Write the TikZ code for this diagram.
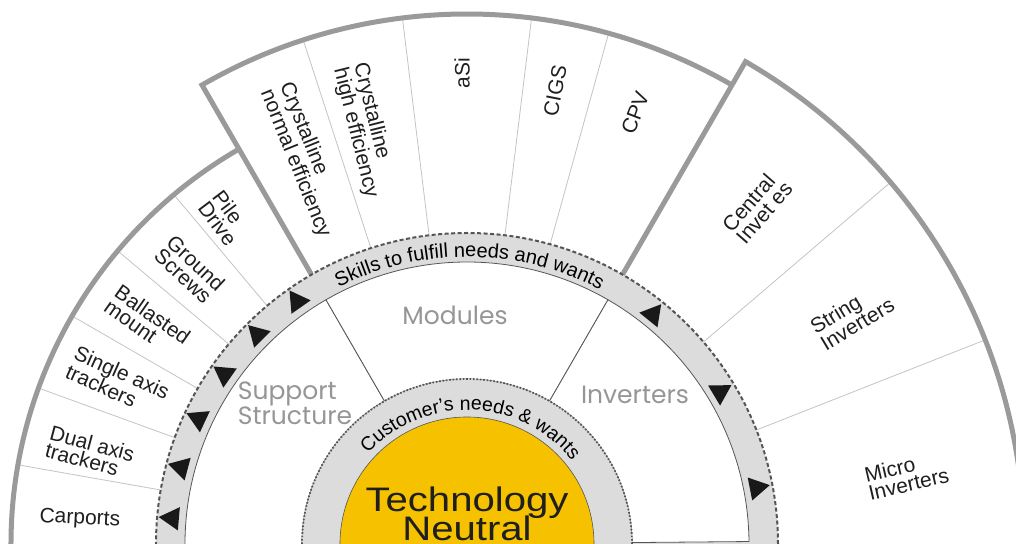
\documentclass[tikz,border=0pt]{standalone}
\usepackage{fontspec}
\setmainfont{Liberation Sans}
\newfontfamily\geofont{Poppins}
\usepackage{xcolor}
\usetikzlibrary{shapes.geometric,decorations.text}

\definecolor{rimgray}{HTML}{9A9A9A}
\definecolor{bandgray}{HTML}{DCDCDC}
\definecolor{linegray}{HTML}{555555}
\definecolor{thingray}{HTML}{C4C4C4}
\definecolor{titlegray}{HTML}{969696}
\definecolor{sunyellow}{HTML}{F6C200}

\begin{document}
\begin{tikzpicture}[x=1pt, y=1pt,
  lbl/.style={font=\fontsize{21}{18}\selectfont, align=left, inner sep=0pt, text=black!88},
  title/.style={font=\geofont\fontsize{25}{22}\selectfont, text=titlegray, align=left, inner sep=0pt},
  tri/.style={regular polygon, regular polygon sides=3, fill=black!90, inner sep=0pt, minimum size=27}]
  \def\rSun{127}
  \def\rCust{165}
  \def\rIn{282}
  \def\rSk{311}
  \useasboundingbox (-467,1) rectangle (549,544);
  \fill[white] (-467,1) rectangle (549,544);

  % thin dividers between the options
  \foreach \a in {130,140,150,160,170} \draw[thingray, line width=0.8] (\a:\rSk) -- (\a:456);
  \foreach \a in {108,97,83,74.5} \draw[thingray, line width=0.8] (\a:\rSk) -- (\a:530);
  \foreach \a in {40.5,21.5} \draw[thingray, line width=0.8] (\a:\rSk) -- (\a:557);

  % outer rims
  \draw[rimgray, line width=5] (120:456) arc[start angle=120, end angle=185, radius=456];
  \draw[rimgray, line width=5, line join=miter] (120:\rSk) -- (120:530)
        arc[start angle=120, end angle=60, radius=530];
  \draw[rimgray, line width=5, line join=miter] (60:\rSk) -- (60:557)
        arc[start angle=60, end angle=-5, radius=557];

  % skills ring
  \fill[bandgray] (0,0) circle[radius=\rSk];
  \draw[linegray, line width=2, dash pattern=on 4pt off 2.5pt] (0,0) circle[radius=\rSk];

  % the three inner sectors
  \foreach \s/\e in {120/181, 60/120, 0.5/60}
    \draw[linegray, line width=0.8, fill=white] (\s:\rCust) -- (\s:\rIn)
      arc[start angle=\s, end angle=\e, radius=\rIn] -- (\e:\rCust)
      arc[start angle=\e, end angle=\s, radius=\rCust] -- cycle;

  % customer ring and core
  \fill[bandgray] (0,0) circle[radius=\rCust];
  \draw[linegray, line width=1.8, dash pattern=on 1.6pt off 1.8pt] (0,0) circle[radius=\rCust];
  \draw[linegray, line width=0.6, fill=sunyellow] (0,0) circle[radius=\rSun];

  % flow marks in the skills ring
  \foreach \a [count=\i] in {125,135,...,175}
    \node[tri, rotate=\a-90] (flowL\i) at (\a:296) {};
  \foreach \a [count=\i] in {51,31,11}
    \node[tri, rotate=\a-90] (flowR\i) at (\a:295) {};

  % ring texts
  \path[decorate, decoration={text along path, text align=center,
      text={|\fontsize{19.5}{19.5}\selectfont|Customer’s needs {\&} wants}}]
    (150:134) arc[start angle=150, end angle=26, radius=134];
  \path[decorate, decoration={text along path, text align=center,
      text={|\fontsize{20}{20}\selectfont|Skills to fulfill needs and wants}}]
    (125:287) arc[start angle=125, end angle=54, radius=287];

  % options
  \foreach \a/\r/\t/\txt [count=\i] in {126.6/406/-53/{Pile\\Drive},
      135.3/390/-43/{Ground\\Screws}, 145.2/389/-35/{Ballasted\\mount},
      155.1/385/-24/{Single axis\\trackers}, 166.3/388/-15/{Dual axis\\trackers},
      176.3/388/-3/{Carports}}
    \node[lbl, rotate=\t] (sup\i) at (\a:\r) {\txt};
  \foreach \a/\r/\t/\txt [count=\i] in {112.9/417/-68/{Crystalline\\normal efficiency},
      103.8/426/-76/{Crystalline\\high efficiency}, 90.6/471/90/{aSi},
      79/462/79/{CIGS}, 68.7/463/69/{CPV}}
    \node[lbl, rotate=\t] (mod\i) at (\a:\r) {\txt};
  \foreach \a/\r/\t/\txt [count=\i] in {49.3/445/49/{Central\\Invet es},
      30.7/448/31/{String\\Inverters}, 8.9/445/13/{Micro\\Inverters}}
    \node[lbl, rotate=\t] (inv\i) at (\a:\r) {\txt};

  % sector titles
  \node[title] (supTitle) at (-172,141) {Support\\Structure};
  \node[title] (modTitle) at (-12,229) {Modules};
  \node[title] (invTitle) at (168,149) {Inverters};

  % core
  \node[font=\fontsize{34}{29}\selectfont, anchor=base, text=black!88, inner sep=0pt]
    (techA) at (0,33) {\scalebox{1.18}[1]{Technology}};
  \node[font=\fontsize{34}{29}\selectfont, anchor=base, text=black!88, inner sep=0pt]
    (techB) at (0,4) {\scalebox{1.18}[1]{Neutral}};
\end{tikzpicture}
\end{document}
